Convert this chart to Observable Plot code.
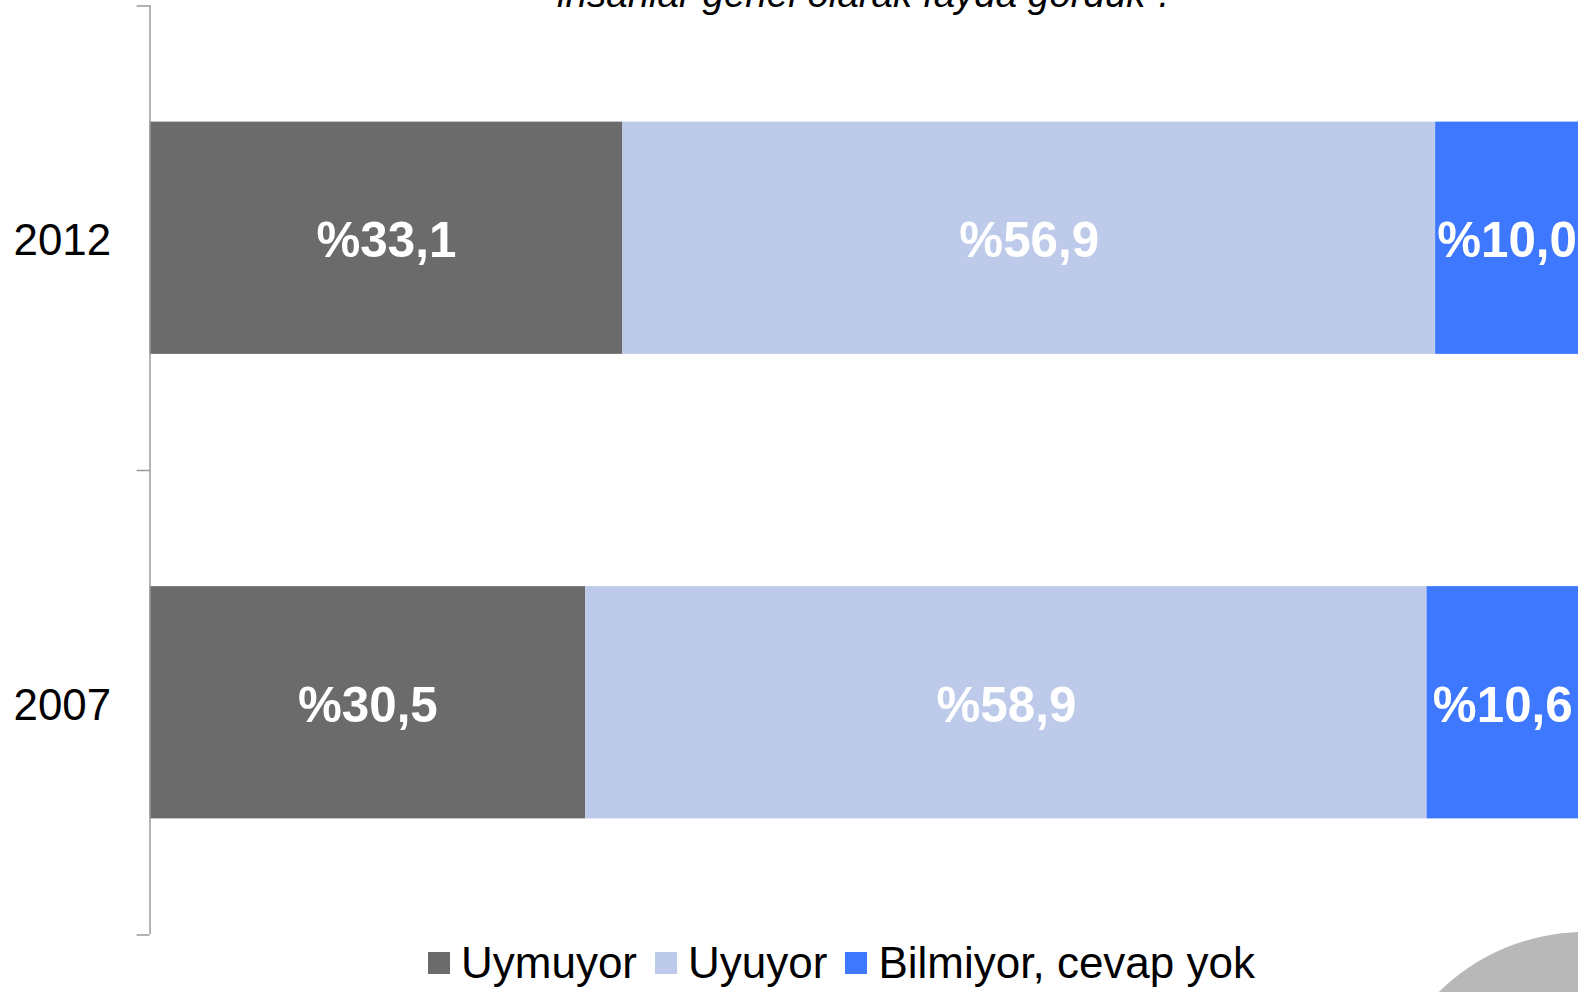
<!DOCTYPE html>
<html><head><meta charset="utf-8">
<script src="https://cdn.jsdelivr.net/npm/d3@7"></script>
<script src="https://cdn.jsdelivr.net/npm/@observablehq/plot@0.6"></script>
<style>
body{margin:0;width:1578px;height:992px;overflow:hidden;position:relative;background:#fff;font-family:"Liberation Sans",Arial,sans-serif;}
#title{position:absolute;left:557px;top:-25px;font-size:38.5px;line-height:38.5px;font-style:italic;color:#000;white-space:nowrap;}
#chart{position:absolute;left:0;top:0;}
#legend{position:absolute;left:428px;top:937px;display:flex;align-items:center;font-size:44px;line-height:52px;white-space:nowrap;color:#000;}
#legend .item{display:flex;align-items:center;margin-right:18px;}
#legend .sw{width:22px;height:22px;margin-right:11px;}
#deco{position:absolute;left:1377px;top:932px;width:416px;height:416px;border-radius:50%;background:#b8b8b8;}
</style></head><body>
<div id="title">insanlar genel olarak fayda gördük”.</div>
<div id="chart"></div>
<div id="legend"></div>
<div id="deco"></div>
<script>
const years = ["2012", "2007"];
const categories = ["Uymuyor", "Uyuyor", "Bilmiyor, cevap yok"];
const colors = ["#6b6b6b", "#bdcaea", "#3d78ff"];
const values2012 = [33.1, 56.9, 10.0];
const values2007 = [30.5, 58.9, 10.6];

const data = [];
[[years[0], values2012], [years[1], values2007]].forEach(([yr, vals]) => {
  vals.forEach((v, i) => data.push({year: yr, cat: categories[i], value: v}));
});
const fmt = v => "%" + v.toFixed(1).replace(".", ",");

const H = 940, mTop = 5, mBottom = 3;
const step = (H - mTop - mBottom) / years.length;

const chart = Plot.plot({
  width: 1583,
  height: H,
  marginLeft: 150,
  marginRight: 0,
  marginTop: mTop,
  marginBottom: mBottom,
  style: {fontFamily: "Liberation Sans, Arial, sans-serif", background: "transparent", overflow: "visible"},
  x: {domain: [0, 100], axis: null},
  y: {domain: years, paddingInner: 0.5, paddingOuter: 0.25, label: null},
  color: {domain: categories, range: colors},
  marks: [
    Plot.barX(data, Plot.stackX({x: "value", y: "year", fill: "cat", order: null})),
    Plot.text(data, Plot.stackX({x: "value", y: "year", z: "cat", order: null, text: d => fmt(d.value),
      fill: "white", fontSize: 49.5, fontWeight: "bold", dy: 3})),
    Plot.axisY({tickSize: 0, tickPadding: 39, fontSize: 44, fill: "#000", label: null, dy: 3}),
    Plot.ruleX([0], {stroke: "#9a9a9a", strokeWidth: 1.5}),
    Plot.ruleY(years, {y: d => d, x1: 0, x2: 0, insetLeft: -13, dy: -step / 2, stroke: "#9a9a9a", strokeWidth: 1.5}),
    Plot.ruleY(years.slice(-1), {y: d => d, x1: 0, x2: 0, insetLeft: -13, dy: step / 2, stroke: "#9a9a9a", strokeWidth: 1.5})
  ]
});
document.getElementById("chart").appendChild(chart);

const legend = document.getElementById("legend");
categories.forEach((c, i) => {
  const it = document.createElement("div");
  it.className = "item";
  it.innerHTML = `<span class="sw" style="background:${colors[i]}"></span><span>${c}</span>`;
  legend.appendChild(it);
});
</script>
</body></html>
